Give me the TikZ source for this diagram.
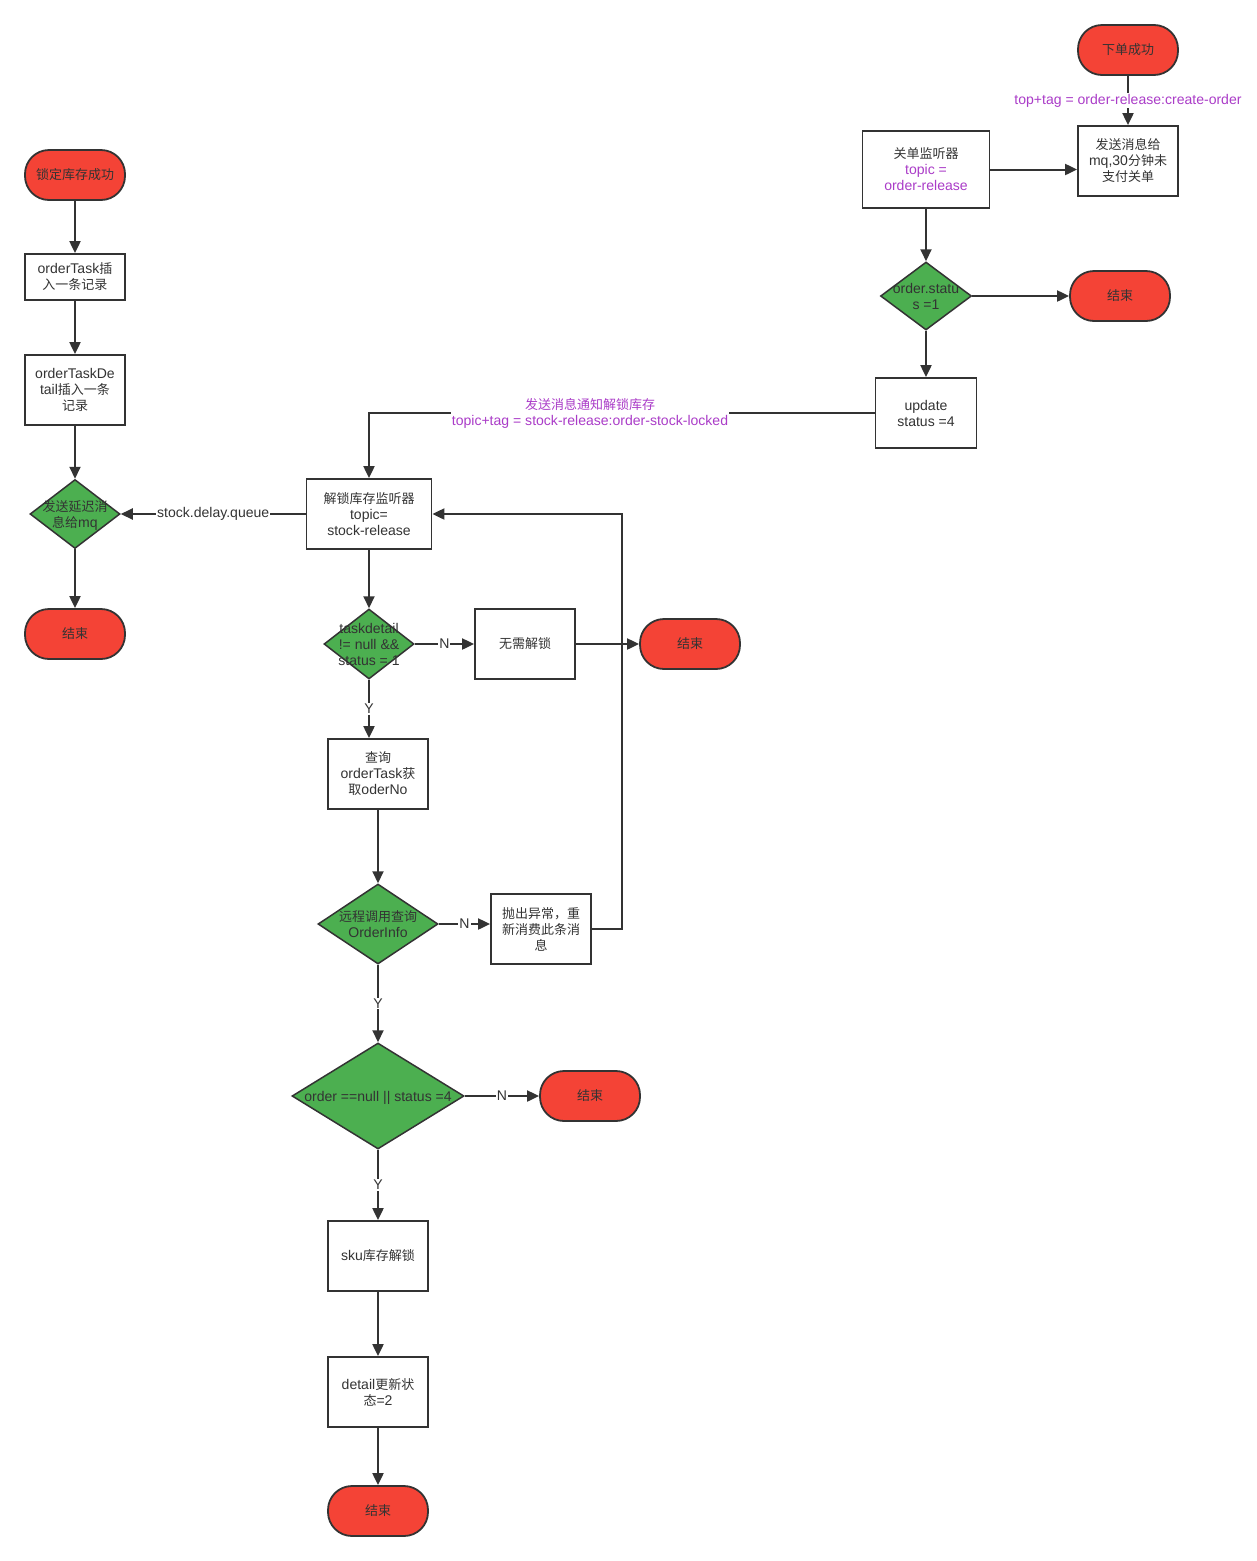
\documentclass[tikz,border=0pt]{standalone}
\usepackage{fontspec}
\setmainfont[Scale=1.08]{Liberation Sans}
\newfontfamily\cjk{Noto Sans CJK SC}
\newcommand{\zh}[1]{{\cjk #1}}
\usetikzlibrary{shapes.geometric,arrows.meta}
\definecolor{endred}{HTML}{F44336}
\definecolor{askgreen}{HTML}{4CAF50}
\definecolor{edgegray}{HTML}{333333}
\definecolor{tagpurple}{HTML}{AA3CC8}
% text that may run over the edge of a diamond
\newcommand{\inside}[1]{\makebox[0pt]{\smash{\raisebox{-0.38em}{\begin{tabular}{@{}c@{}}#1\end{tabular}}}}}

\begin{document}
\begin{tikzpicture}[x=1pt, y=-1pt, font=\fontsize{13}{16}\selectfont, text=edgegray,
  terminal/.style={draw=edgegray, line width=1.8pt, fill=endred, rounded corners=24pt,
    minimum width=100pt, minimum height=50pt, inner sep=0pt},
  task/.style={draw=edgegray, line width=1.8pt, fill=white, align=center, inner sep=0pt,
    minimum width=100pt, minimum height=70pt},
  ask/.style={shape=diamond, draw=edgegray, line width=1.5pt, fill=askgreen, inner sep=0pt},
  flow/.style={draw=edgegray, line width=2pt, -{Triangle[length=12pt,width=11pt]}},
  yn/.style={fill=white, inner sep=1pt},
  tag/.style={fill=white, text=tagpurple, align=center, inner sep=1pt}]
  \fill[white] (0,0) rectangle (1257,1561);
  \useasboundingbox (0,0) rectangle (1257,1561);

  % left column: stock locked
  \node[terminal] (lockok) at (75,175) {\zh{锁定库存成功}};
  \node[task, minimum height=46pt] (taskrec) at (75,277) {orderTask\zh{插}\\\zh{入一条记录}};
  \node[task] (detailrec) at (75,390) {orderTaskDe\\tail\zh{插入一条}\\\zh{记录}};
  \node[ask, minimum width=90pt, minimum height=69pt] (delay) at (75,514) {\inside{\zh{发送延迟消}\\\zh{息给}mq}};
  \node[terminal] (end1) at (75,634) {\zh{结束}};

  % top right: order created
  \node[terminal] (orderok) at (1128,50) {\zh{下单成功}};
  \node[task] (sendmq) at (1128,161) {\zh{发送消息给}\\mq,30\zh{分钟未}\\\zh{支付关单}};
  \node[task, minimum width=127pt, minimum height=77pt] (closelsn) at (926,169.5)
    {\zh{关单监听器}\\\textcolor{tagpurple}{topic =}\\\textcolor{tagpurple}{order-release}};
  \node[ask, minimum width=91pt, minimum height=68pt] (paid) at (926,296) {\inside{order.statu\\s =1}};
  \node[terminal] (end2) at (1120,296) {\zh{结束}};
  \node[task, minimum width=101pt] (update) at (926,413) {update\\status =4};

  % middle: stock release listener
  \node[task, minimum width=125pt] (unlock) at (369,514) {\zh{解锁库存监听器}\\topic=\\stock-release};
  \node[ask, minimum width=90pt, minimum height=70pt] (hasdetail) at (369,644)
    {\inside{taskdetail\\!= null \&\&\\status = 1}};
  \node[task] (nounlock) at (525,644) {\zh{无需解锁}};
  \node[terminal] (end3) at (690,644) {\zh{结束}};
  \node[task] (query) at (378,774) {\zh{查询}\\orderTask\zh{获}\\\zh{取}oderNo};
  \node[ask, minimum width=120pt, minimum height=80pt] (remote) at (378,924) {\inside{\zh{远程调用查询}\\OrderInfo}};
  \node[task] (retry) at (541,929) {\zh{抛出异常，重}\\\zh{新消费此条消}\\\zh{息}};
  \node[ask, minimum width=172pt, minimum height=106pt] (state) at (378,1096)
    {\inside{order ==null || status =4}};
  \node[terminal] (end4) at (590,1096) {\zh{结束}};
  \node[task] (skuunlock) at (378,1256) {sku\zh{库存解锁}};
  \node[task] (detailupd) at (378,1392) {detail\zh{更新状}\\\zh{态}=2};
  \node[terminal] (end5) at (378,1511) {\zh{结束}};

  % connectors
  \draw[flow] (lockok) -- (taskrec);
  \draw[flow] (taskrec) -- (detailrec);
  \draw[flow] (detailrec) -- (delay);
  \draw[flow] (delay) -- (end1);
  \draw[flow] (orderok) -- node[tag] {top+tag = order-release:create-order} (sendmq);
  \draw[flow] (closelsn.east) -- (closelsn.east -| sendmq.west);
  \draw[flow] (closelsn) -- (paid);
  \draw[flow] (paid) -- (end2);
  \draw[flow] (paid) -- (update);
  \draw[flow] (update.west) -| (unlock.north);
  \node[tag] (locktag) at (590,413) {\zh{发送消息通知解锁库存}\\topic+tag = stock-release:order-stock-locked};
  \draw[flow] (unlock) -- node[yn] {stock.delay.queue} (delay);
  \draw[flow] (unlock) -- (hasdetail);
  \draw[flow] (hasdetail) -- node[yn] {N} (nounlock);
  \draw[flow] (nounlock) -- (end3);
  \draw[flow] (hasdetail.south) -- node[yn] {Y} (hasdetail.south |- query.north);
  \draw[flow] (query) -- (remote);
  \draw[flow] (remote.east) -- node[yn] {N} (remote.east -| retry.west);
  \draw[flow] (retry.east) -- ++(30,0) |- (unlock.east);
  \draw[flow] (remote) -- node[yn] {Y} (state);
  \draw[flow] (state) -- node[yn] {N} (end4);
  \draw[flow] (state) -- node[yn] {Y} (skuunlock);
  \draw[flow] (skuunlock) -- (detailupd);
  \draw[flow] (detailupd) -- (end5);
\end{tikzpicture}
\end{document}
